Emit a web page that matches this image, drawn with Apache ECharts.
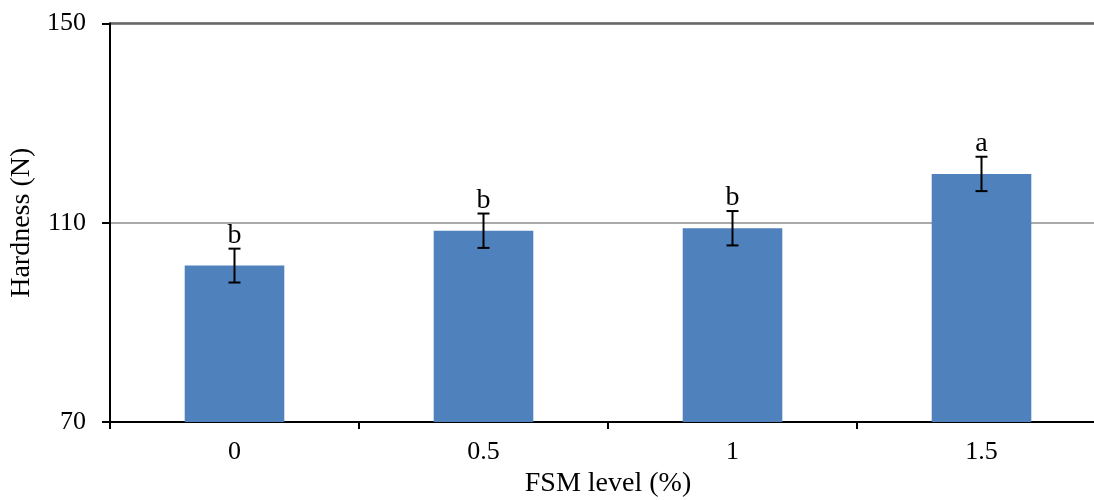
<!DOCTYPE html>
<html>
<head>
<meta charset="utf-8">
<script src="https://cdn.jsdelivr.net/npm/echarts@6/dist/echarts.min.js"></script>
<style>
  html, body { margin: 0; padding: 0; background: #fff; }
  #chart { width: 1094px; height: 500px; }
</style>
</head>
<body>
<div id="chart"></div>
<script>
// FSM level categories and measured hardness (mean ± SD) with significance letters
const levels = ['0', '0.5', '1', '1.5'];
const hardness = [101.4, 108.4, 108.9, 119.8];
const sd = [3.4, 3.45, 3.45, 3.45];
const letters = ['b', 'b', 'b', 'a'];
const yTicks = [70, 110, 150];

const serif = 'Liberation Serif';
const chart = echarts.init(document.getElementById('chart'));

const errData = levels.map((c, i) => [i, hardness[i], sd[i], letters[i]]);

chart.setOption({
  animation: false,
  textStyle: { fontFamily: serif },
  grid: {
    left: 110, top: 23.5, bottom: 78, right: -12,
    outerBoundsMode: 'none',
    containLabel: false,
    show: true, borderColor: '#000', borderWidth: 2, backgroundColor: 'transparent'
  },
  xAxis: {
    type: 'category',
    data: levels,
    boundaryGap: true,
    name: 'FSM level (%)',
    nameLocation: 'middle',
    nameGap: 47,
    nameTextStyle: { fontFamily: serif, fontSize: 28, color: '#000' },
    axisLine: { lineStyle: { color: '#000', width: 2 } },
    axisTick: { show: true, length: 7, lineStyle: { color: '#000', width: 2 } },
    axisLabel: { fontFamily: serif, fontSize: 26, color: '#000', margin: 17 },
    splitLine: { show: false }
  },
  yAxis: {
    type: 'value',
    min: yTicks[0],
    max: yTicks[yTicks.length - 1],
    interval: yTicks[1] - yTicks[0],
    name: 'Hardness (N)',
    nameLocation: 'middle',
    nameGap: 73,
    nameTextStyle: { fontFamily: serif, fontSize: 28, color: '#000' },
    axisLine: { show: true, lineStyle: { color: '#000', width: 2 } },
    axisTick: { show: true, length: 8, lineStyle: { color: '#000', width: 2 } },
    axisLabel: { fontFamily: serif, fontSize: 26, color: '#000', margin: 24 },
    splitLine: { show: true, lineStyle: { color: '#8c8c8c', width: 1.5 } }
  },
  series: [
    {
      type: 'bar',
      data: hardness,
      barWidth: '40%',
      itemStyle: { color: '#4F81BD' },
      z: 2
    },
    {
      // error bars (I-beams) with significance letters above
      type: 'custom',
      data: errData,
      z: 5,
      renderItem: function (params, api) {
        const i = api.value(0);
        const m = api.value(1);
        const s = api.value(2);
        const top = api.coord([i, m + s]);
        const bot = api.coord([i, m - s]);
        const x = top[0];
        const cap = 6;
        const style = { stroke: '#000', lineWidth: 2 };
        return {
          type: 'group',
          children: [
            { type: 'line', shape: { x1: x, y1: top[1], x2: x, y2: bot[1] }, style: style },
            { type: 'line', shape: { x1: x - cap, y1: top[1], x2: x + cap, y2: top[1] }, style: style },
            { type: 'line', shape: { x1: x - cap, y1: bot[1], x2: x + cap, y2: bot[1] }, style: style },
            {
              type: 'text',
              style: {
                text: errData[params.dataIndex][3],
                x: x, y: top[1] + 1,
                align: 'center', verticalAlign: 'bottom',
                font: '28px "Liberation Serif"', fill: '#000'
              }
            }
          ]
        };
      }
    }
  ]
});
</script>
</body>
</html>
